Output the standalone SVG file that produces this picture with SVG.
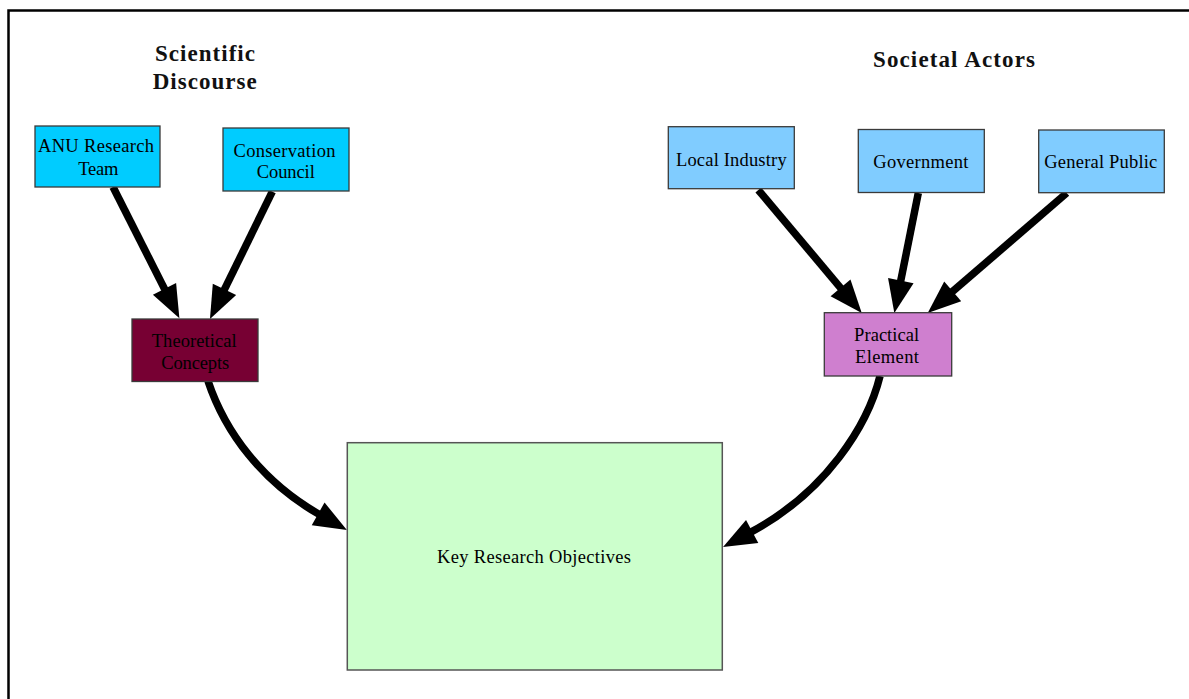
<svg xmlns="http://www.w3.org/2000/svg" width="1189" height="699" viewBox="0 0 1189 699">
<style>
.box{stroke:#3a3a3a;stroke-width:1.3}
.t{font-family:"Liberation Serif","Times New Roman",serif;font-size:18.5px;fill:#000;text-anchor:middle}
.h{font-family:"Liberation Serif","Times New Roman",serif;font-size:23px;font-weight:bold;fill:#111;text-anchor:middle}
.c{fill:none;stroke:#000;stroke-width:7.5}
</style>
<defs>
<marker id="ah" markerUnits="userSpaceOnUse" markerWidth="36" markerHeight="28" refX="2" refY="13" orient="auto" overflow="visible">
<path d="M0,0 L33,13 L0,26 z" fill="#000"/>
</marker>
</defs>
<rect width="1189" height="699" fill="#fff"/>
<path d="M8.5,700 V10.5 H1190" fill="none" stroke="#000" stroke-width="2.5"/>
<g id="title-scientific">
<text class="h" x="205" y="61" textLength="100" lengthAdjust="spacing">Scientific</text>
<text class="h" x="204.7" y="89" textLength="104" lengthAdjust="spacing">Discourse</text>
</g>
<g id="title-societal">
<text class="h" x="954" y="67" textLength="162" lengthAdjust="spacing">Societal Actors</text>
</g>
<g id="connectors">
<path class="c" d="M113,187 L165.4,290.6" marker-end="url(#ah)"/>
<path class="c" d="M272.3,191.7 L223.6,291.2" marker-end="url(#ah)"/>
<path class="c" d="M758.3,190 L841.8,289.3" marker-end="url(#ah)"/>
<path class="c" d="M918.3,193 L900.4,282.6" marker-end="url(#ah)"/>
<path class="c" d="M1066.7,193 L951.2,292.7" marker-end="url(#ah)"/>
<path class="c" d="M208,381 C225,432 262,482 319.9,514.8" marker-end="url(#ah)"/>
<path class="c" d="M880,376 C868,425 826,492 750.4,532.4" marker-end="url(#ah)"/>
</g>
<g id="anu">
<rect class="box" x="35" y="126" width="125" height="61" fill="#00ccff"/>
<text class="t" x="96" y="152" textLength="116" lengthAdjust="spacing">ANU Research</text>
<text class="t" x="98.3" y="175" textLength="40" lengthAdjust="spacing">Team</text>
</g>
<g id="conservation">
<rect class="box" x="223" y="128" width="126" height="63" fill="#00ccff"/>
<text class="t" x="284.5" y="157" textLength="102" lengthAdjust="spacing">Conservation</text>
<text class="t" x="285.8" y="178" textLength="58" lengthAdjust="spacing">Council</text>
</g>
<g id="theoretical">
<rect class="box" x="132" y="319" width="126" height="62.5" fill="#770033"/>
<text class="t" x="194.2" y="347" textLength="85" lengthAdjust="spacing">Theoretical</text>
<text class="t" x="195.2" y="369" textLength="68" lengthAdjust="spacing">Concepts</text>
</g>
<g id="local-industry">
<rect class="box" x="668.3" y="126.7" width="126" height="62" fill="#80ccff"/>
<text class="t" x="731.3" y="166" textLength="110.7" lengthAdjust="spacing">Local Industry</text>
</g>
<g id="government">
<rect class="box" x="858.3" y="129.5" width="126" height="63" fill="#80ccff"/>
<text class="t" x="920.8" y="168.3" textLength="95" lengthAdjust="spacing">Government</text>
</g>
<g id="general-public">
<rect class="box" x="1038.7" y="130" width="125.6" height="62.7" fill="#80ccff"/>
<text class="t" x="1100.8" y="168.3" textLength="113" lengthAdjust="spacing">General Public</text>
</g>
<g id="practical">
<rect class="box" x="824.3" y="312.7" width="127.4" height="63.3" fill="#cf7fcf"/>
<text class="t" x="886.6" y="341" textLength="65" lengthAdjust="spacing">Practical</text>
<text class="t" x="887" y="363" textLength="64" lengthAdjust="spacing">Element</text>
</g>
<g id="key">
<rect x="347.3" y="442.7" width="375" height="227.3" fill="#ccffcc" stroke="#555" stroke-width="1.5"/>
<text class="t" x="534" y="563" textLength="194" lengthAdjust="spacing">Key Research Objectives</text>
</g>
</svg>
